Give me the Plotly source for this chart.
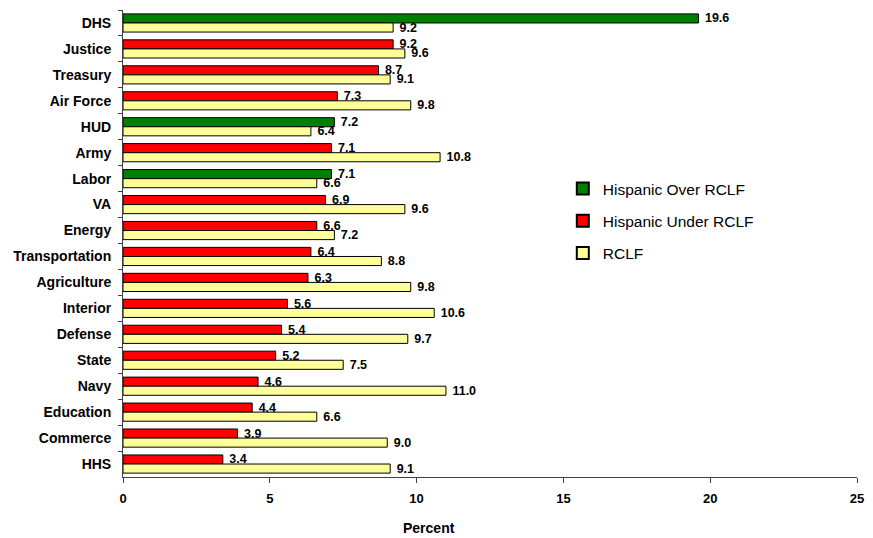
import plotly.graph_objects as go

categories = ["DHS", "Justice", "Treasury", "Air Force", "HUD", "Army", "Labor", "VA",
              "Energy", "Transportation", "Agriculture", "Interior", "Defense", "State",
              "Navy", "Education", "Commerce", "HHS"]
hispanic = [19.6, 9.2, 8.7, 7.3, 7.2, 7.1, 7.1, 6.9, 6.6, 6.4, 6.3, 5.6, 5.4, 5.2, 4.6, 4.4, 3.9, 3.4]
rclf = [9.2, 9.6, 9.1, 9.8, 6.4, 10.8, 6.6, 9.6, 7.2, 8.8, 9.8, 10.6, 9.7, 7.5, 11.0, 6.6, 9.0, 9.1]

over = [h if h > r else None for h, r in zip(hispanic, rclf)]
under = [h if h <= r else None for h, r in zip(hispanic, rclf)]

GREEN = "#008000"
RED = "#FF0000"
YELLOW = "#FFFF99"
FONT = "Liberation Sans, Arial, sans-serif"

W, H = 873, 538
L, R, T, B = 123, 9, 10, 61
PW, PH = W - L - R, H - T - B

fig = go.Figure()
common = dict(orientation="h", textposition="outside", texttemplate="\u00a0%{x:.1f}",
              cliponaxis=False, constraintext="none", showlegend=False,
              textfont=dict(family=FONT, size=12.5, color="black", weight="bold"),
              marker_line=dict(color="black", width=1))
fig.add_trace(go.Bar(y=categories, x=over, marker_color=GREEN, offsetgroup="h", **common))
fig.add_trace(go.Bar(y=categories, x=under, marker_color=RED, offsetgroup="h", **common))
fig.add_trace(go.Bar(y=categories, x=rclf, marker_color=YELLOW, offsetgroup="r", **common))

for name, col in [("Hispanic Over RCLF", GREEN), ("Hispanic Under RCLF", RED), ("RCLF", YELLOW)]:
    fig.add_trace(go.Scatter(x=[None], y=[None], mode="markers", name=name, legendgroup=name,
                             marker=dict(symbol="square", size=17, color=col,
                                         line=dict(color="black", width=1))))

fig.update_layout(
    width=W, height=H,
    margin=dict(l=L, r=R, t=T, b=B),
    paper_bgcolor="white", plot_bgcolor="white",
    barmode="group", bargap=0.3, bargroupgap=0,
    font=dict(family=FONT, color="black"),
    legend=dict(xref="paper", yref="paper", x=(567 - L) / PW, y=1 - (172 - T) / PH,
                xanchor="left", yanchor="top", traceorder="grouped",
                tracegroupgap=9, itemsizing="constant",
                font=dict(family=FONT, size=15.5, color="black"),
                bgcolor="rgba(0,0,0,0)"),
    xaxis=dict(range=[0, 25], tickvals=[0, 5, 10, 15, 20, 25], showgrid=False, zeroline=False,
               showline=True, linecolor="#404040", linewidth=1, ticks="outside", ticklen=5,
               tickcolor="#404040", ticklabelstandoff=4,
               tickfont=dict(family=FONT, size=13, color="black", weight="bold")),
    yaxis=dict(autorange="reversed", showgrid=False, showline=True, linecolor="#404040",
               linewidth=1, ticks="outside", ticklen=4, tickcolor="#404040",
               tickson="boundaries", ticklabelstandoff=8,
               tickfont=dict(family=FONT, size=14, color="black", weight="bold")),
    annotations=[dict(text="<b>Percent</b>", xref="paper", yref="paper",
                      x=(432 - L) / PW, y=-(528 - (H - B)) / PH,
                      xanchor="center", yanchor="middle", showarrow=False,
                      font=dict(family=FONT, size=14, color="black"))],
)

fig.write_html("out.html")
